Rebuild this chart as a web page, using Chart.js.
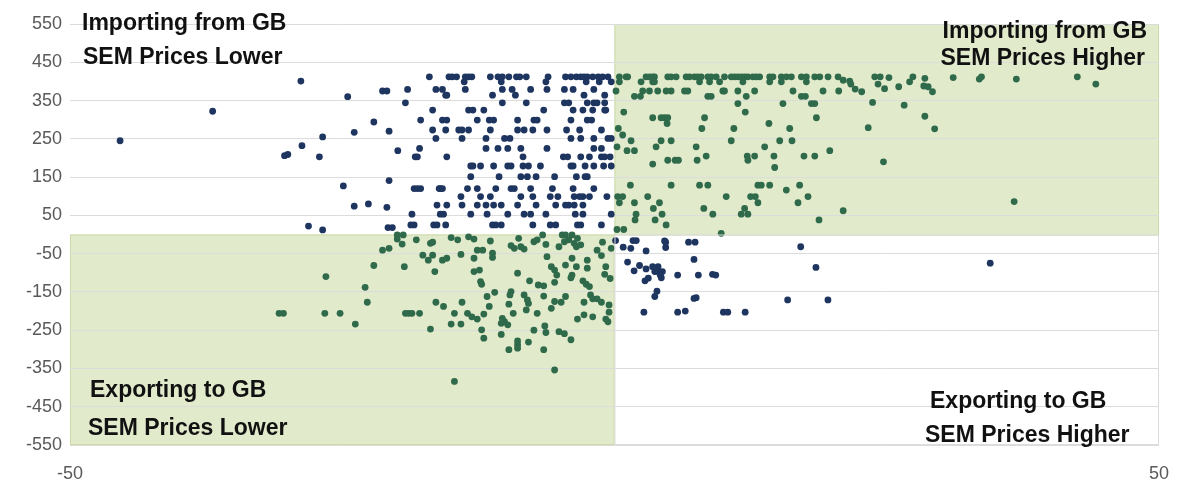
<!DOCTYPE html>
<html>
<head>
<meta charset="utf-8">
<script src="https://cdn.jsdelivr.net/npm/chart.js@4.4.1/dist/chart.umd.min.js"></script>
<style>
  body { margin: 0; background: #ffffff; }
</style>
</head>
<body>
<canvas id="chart" width="1179" height="482"></canvas>
<script>
// Axis ranges and ticks
const xRange = [-50, 50];
const xTicks = [-50, 50];
const yRange = [-550, 550];
const yStep = 100;

// Quadrant labels [line1, line2]
const labelNW = ['Importing from GB', 'SEM Prices Lower'];
const labelNE = ['Importing from GB', 'SEM Prices Higher'];
const labelSW = ['Exporting to GB', 'SEM Prices Lower'];
const labelSE = ['Exporting to GB', 'SEM Prices Higher'];

// NW quadrant (navy): importing, SEM lower
const pointsNW = [
    [-45.4,245],[-36.9,322],[-28.8,401],[-24.5,360],[-21.3,375],[-20.9,375],[-22.1,294],[-23.9,267],
    [-20.7,270],[-26.8,255],[-28.7,232],[-30.3,206],[-30.0,209],[-27.1,203],[-19.9,219],[-24.9,127],
    [-20.7,141],[-23.9,74],[-22.6,80],[-20.9,71],[-28.1,22],[-26.8,12],[-20.8,18],[-20.4,18],
    [-17.0,412],[-15.2,412],[-14.9,412],[-14.5,412],[-13.7,412],[-13.4,412],[-13.1,412],[-11.4,412],
    [-10.7,412],[-10.3,412],[-9.7,412],[-9.0,412],[-8.7,412],[-8.1,412],[-6.1,412],[-4.5,412],
    [-4.0,412],[-3.5,412],[-3.1,412],[-2.8,412],[-2.5,412],[-2.0,412],[-1.5,412],[-1.1,412],[-0.6,412],
    [-13.8,399],[-10.4,399],[-6.3,399],[-2.6,399],[-1.4,399],[-0.3,399],
    [-19.0,379],[-16.4,379],[-15.8,379],[-13.7,379],[-10.3,379],[-9.4,379],[-7.7,379],[-6.2,379],
    [-4.6,379],[-3.8,379],[-1.9,379],
    [-15.5,364],[-15.4,364],[-11.2,364],[-9.1,364],[-2.8,364],[-0.9,364],
    [-19.2,344],[-10.3,344],[-8.1,344],[-4.6,344],[-4.2,344],[-2.5,344],[-1.9,344],[-1.6,344],[-0.9,344],
    [-16.7,325],[-13.4,325],[-13.0,325],[-12.0,325],[-6.5,325],[-3.8,325],[-2.9,325],[-2.0,325],
    [-0.9,325],[-0.8,325],
    [-17.8,299],[-15.8,299],[-15.4,299],[-12.6,299],[-11.5,299],[-11.1,299],[-8.9,299],[-7.4,299],
    [-7.1,299],[-4.0,299],[-2.5,299],[-2.1,299],
    [-16.7,273],[-15.5,273],[-14.3,273],[-14.0,273],[-13.4,273],[-11.4,273],[-8.9,273],[-8.3,273],
    [-7.5,273],[-6.2,273],[-4.4,273],[-3.2,273],[-1.2,273],
    [-16.4,251],[-14.0,251],[-11.8,251],[-10.1,251],[-9.6,251],[-4.0,251],[-3.1,251],[-1.9,251],
    [-0.6,251],[-0.3,251],
    [-17.9,225],[-11.8,225],[-10.7,225],[-9.8,225],[-8.6,225],[-6.2,225],[-1.9,225],[-1.2,225],
    [-18.3,203],[-18.1,203],[-15.4,203],[-8.4,203],[-4.7,203],[-4.3,203],[-3.1,203],[-2.3,203],
    [-1.2,203],[-0.9,203],[-0.4,203],
    [-13.2,179],[-13.0,179],[-12.3,179],[-11.1,179],[-9.8,179],[-9.5,179],[-8.4,179],[-7.9,179],
    [-6.8,179],[-4.0,179],[-3.8,179],[-2.7,179],[-1.9,179],[-1.0,179],[-0.3,179],
    [-13.2,151],[-10.6,151],[-8.6,151],[-8.0,151],[-7.2,151],[-5.5,151],[-3.5,151],[-2.7,151],[-2.5,151],
    [-18.4,120],[-18.1,120],[-17.8,120],[-16.1,120],[-16.0,120],[-15.8,120],[-13.5,120],[-12.6,120],
    [-10.9,120],[-9.5,120],[-9.2,120],[-7.7,120],[-5.7,120],[-3.8,120],[-1.9,120],
    [-14.1,99],[-12.3,99],[-11.4,99],[-8.6,99],[-7.5,99],[-5.9,99],[-5.2,99],[-3.7,99],[-3.2,99],
    [-2.9,99],[-2.3,99],[-0.7,99],
    [-16.3,77],[-15.4,77],[-14.0,77],[-12.6,77],[-11.8,77],[-11.1,77],[-10.4,77],[-8.9,77],[-7.2,77],
    [-5.4,77],[-4.5,77],[-4.2,77],[-3.7,77],[-2.9,77],
    [-18.6,53],[-16.0,53],[-15.7,53],[-13.2,53],[-11.7,53],[-9.8,53],[-8.3,53],[-7.7,53],[-6.3,53],
    [-3.6,53],[-2.9,53],[-0.3,53],
    [-18.7,25],[-18.4,25],[-16.6,25],[-16.3,25],[-15.5,25],[-11.2,25],[-10.9,25],[-10.4,25],[-7.5,25],
    [-5.9,25],[-5.4,25],[-3.4,25],[-3.1,25],[-1.2,25]
];

// NE quadrant (green): importing, SEM higher
const pointsNE = [
    [0.45,412],[1.06,412],[1.21,412],[2.9,412],[3.21,412],[3.51,412],[3.67,412],[4.89,412],[5.2,412],
    [5.66,412],[6.58,412],[6.89,412],[7.35,412],[7.65,412],[7.96,412],[8.57,412],[8.88,412],[9.34,412],
    [10.1,412],[10.72,412],[11.03,412],[11.33,412],[11.64,412],[11.95,412],[12.25,412],[12.71,412],
    [13.02,412],[13.33,412],[14.25,412],[14.55,412],[15.32,412],[15.78,412],[16.24,412],[17.16,412],
    [17.62,412],[18.39,412],[18.85,412],[19.61,412],[20.53,412],
    [0.45,399],[2.44,399],[3.51,399],[3.67,399],[7.81,399],[8.73,399],[9.65,399],[11.79,399],
    [14.25,399],[15.32,399],[17.62,399],
    [0.14,375],[2.59,375],[3.21,375],[3.97,375],[4.74,375],[5.2,375],[6.43,375],[6.73,375],[9.95,375],
    [10.1,375],[11.33,375],[12.87,375],[16.39,375],[19.15,375],[20.59,375],
    [1.83,361],[2.38,361],[8.57,361],[8.88,361],[12.1,361],[17.16,361],[17.53,361],
    [11.33,342],[15.47,342],[18.08,342],[18.39,342],
    [0.85,320],[12.01,320],
    [3.51,305],[4.28,305],[4.59,305],[4.89,305],[8.27,305],[18.54,305],
    [4.83,290],[14.18,290],
    [0.35,277],[8.02,277],[10.96,277],[16.09,277],
    [0.75,260],
    [1.52,245],[4.28,245],[5.2,245],[10.72,245],[15.17,245],[16.3,245],
    [0.23,229],[3.82,229],[7.5,229],[13.79,229],
    [1.15,219],[1.83,219],[19.77,219],
    [8.42,205],[12.19,205],[12.87,205],[14.64,205],[17.4,205],[18.39,205],
    [4.89,194],[5.57,194],[5.87,194],[7.59,194],[12.25,194],
    [3.51,184],[14.71,175],
    [1.46,129],[5.2,129],[7.81,129],[8.57,129],[13.17,129],[13.48,129],[14.25,129],[17.0,129],
    [15.78,116],
    [0.29,99],[0.75,99],[3.05,99],[10.26,99],[12.5,99],[12.93,99],[17.77,99],
    [0.45,83],[1.83,83],[4.13,83],[13.17,83],[16.85,83],
    [3.57,68],[8.2,68],[11.95,68],
    [1.98,53],[4.37,53],[9.03,53],[11.64,53],[12.25,53],
    [1.89,38],[3.73,38],[18.78,38],
    [4.74,25],[0.23,13],[0.85,13],[9.8,3],
    [21.0,403],[21.6,401],[21.7,393],[22.1,380],[22.7,373],[23.9,412],[24.4,412],[24.2,393],
    [24.8,381],[25.2,410],[26.1,386],[27.1,399],[27.4,412],[28.5,408],[28.4,388],[28.8,386],
    [29.2,373],[23.7,345],[26.6,338],[28.5,309],[23.3,279],[29.4,276],[24.7,190],[21.0,62],
    [36.7,86],[31.1,410],[33.5,406],[33.7,412],[36.9,406],[42.5,412],[44.2,393]
];

// SW quadrant (green): exporting, SEM lower
const pointsSW = [
    [-19.95,-1],[-19.4,-1],[-19.95,-12],[-19.5,-25],[-18.2,-14],[-16.7,-20],[-16.9,-23],[-21.3,-41],
    [-20.7,-36],[-17.6,-54],[-16.7,-54],[-17.1,-67],[-22.1,-81],[-19.3,-84],[-16.5,-97],[-26.5,-110],
    [-22.9,-138],[-22.7,-177],[-16.4,-177],[-30.8,-206],[-30.4,-206],[-26.6,-206],[-25.2,-206],
    [-19.2,-206],[-18.9,-206],[-18.6,-206],[-17.9,-206],[-23.8,-234],[-16.9,-247],
    [-15.0,-8],[-14.4,-14],[-13.4,-6],[-12.9,-12],[-11.4,-17],[-9.5,-29],[-9.2,-36],[-8.8,-10],
    [-8.6,-32],[-8.3,-38],[-7.4,-19],[-7.1,-14],[-6.6,-1],[-6.3,-26],[-5.1,-32],[-4.8,-1],[-4.5,-1],
    [-4.6,-19],[-4.2,-14],[-3.9,-1],[-3.7,-23],[-3.5,-32],[-3.4,-10],[-3.1,-27],[-1.1,-20],[-0.3,-36],
    [-15.8,-67],[-15.4,-62],[-14.1,-52],[-12.9,-62],[-12.6,-41],[-12.1,-41],[-11.2,-49],[-11.2,-60],
    [-6.2,-58],[-3.9,-62],[-2.5,-67],[-1.6,-41],[-1.2,-55],
    [-12.9,-97],[-12.4,-93],[-8.9,-101],[-5.8,-84],[-5.5,-93],[-5.3,-106],[-4.5,-80],[-3.5,-84],
    [-3.9,-106],[-4.0,-113],[-2.5,-88],[-0.8,-84],[-0.9,-104],[-0.4,-115],
    [-12.3,-123],[-12.2,-130],[-7.8,-121],[-7.0,-132],[-6.5,-134],[-5.5,-125],[-2.9,-121],[-2.6,-130],
    [-2.3,-136],
    [-14.0,-177],[-11.7,-162],[-11.0,-151],[-9.5,-149],[-9.6,-158],[-8.3,-158],[-8.0,-171],[-7.9,-180],
    [-6.5,-161],[-5.5,-175],[-4.9,-177],[-4.5,-162],[-2.8,-177],[-2.2,-158],[-2.0,-168],[-1.6,-168],
    [-1.2,-177],[-0.5,-184],[-9.7,-182],[-11.5,-188],[-15.7,-188],
    [-14.7,-206],[-13.5,-206],[-13.1,-215],[-12.6,-221],[-12.0,-208],[-10.3,-219],[-10.1,-228],
    [-10.4,-232],[-9.8,-236],[-9.3,-206],[-8.1,-197],[-7.1,-206],[-5.8,-193],[-3.4,-221],[-2.8,-210],
    [-2.0,-215],[-0.8,-221],[-0.6,-228],[-0.5,-203],
    [-15.0,-234],[-14.1,-234],[-12.2,-249],[-10.4,-261],[-7.4,-250],[-6.4,-239],[-6.3,-256],
    [-5.1,-254],[-4.6,-259],[-4.0,-275],
    [-12.0,-271],[-8.9,-278],[-8.9,-288],[-7.9,-281],[-9.7,-301],[-8.9,-297],[-6.5,-301],
    [-5.5,-354],[-14.7,-384]
];

// SE quadrant (navy): exporting, SEM higher
const pointsSE = [
    [0.1,-16],[0.8,-33],[1.5,-36],[1.7,-16],[2.0,-16],[2.9,-43],[4.6,-17],[4.7,-20],[4.7,-34],
    [6.8,-20],[7.4,-20],[7.3,-65],[17.1,-32],
    [1.2,-72],[1.8,-95],[2.3,-81],[2.9,-90],[3.5,-84],[4.0,-84],[3.7,-97],[4.0,-97],[4.2,-106],
    [4.4,-97],[3.1,-114],[2.8,-121],[4.3,-113],[5.8,-106],[7.7,-106],[9.0,-104],[9.3,-106],[18.5,-86],
    [3.9,-148],[3.7,-162],[7.3,-167],[7.5,-165],[15.9,-171],[19.6,-171],
    [2.7,-203],[5.8,-203],[6.5,-200],[10.0,-203],[10.4,-203],[12.0,-203],[34.5,-75]
];

const Colors = {
    navy: '#1e3560',
    green: '#2f6a4b',
    shade: '#e2eacc',
    shadeEdge: '#cbdaa8',
    grid: '#dcdcdc',
    tick: '#595959',
    label: '#111111'
};

const toXY = pts => pts.map(p => ({ x: p[0], y: p[1] }));

// Shaded quadrants behind the grid, outline for the lower-right box, quadrant captions
const quadrantShading = {
    id: 'quadrantShading',
    beforeDraw(chart) {
        const { ctx, scales: { x, y } } = chart;
        const x0 = x.getPixelForValue(0);
        const xl = x.getPixelForValue(xRange[0]);
        const xr = x.getPixelForValue(xRange[1]);
        const y0 = y.getPixelForValue(0);
        const yt = y.getPixelForValue(yRange[1]);
        const yb = y.getPixelForValue(yRange[0]);
        ctx.save();
        ctx.fillStyle = Colors.shade;
        ctx.fillRect(x0, yt, xr - x0, y0 - yt);
        ctx.fillRect(xl, y0, x0 - xl, yb - y0);
        ctx.strokeStyle = Colors.shadeEdge;
        ctx.lineWidth = 1;
        ctx.strokeRect(x0 + 0.5, yt + 0.5, xr - x0 - 1, y0 - yt);
        ctx.strokeRect(xl + 0.5, y0 + 0.5, x0 - xl - 1, yb - y0 - 1);
        ctx.restore();
    },
    afterDatasetsDraw(chart) {
        const { ctx, scales: { x, y } } = chart;
        const x0 = x.getPixelForValue(0);
        const xr = x.getPixelForValue(xRange[1]);
        const y0 = y.getPixelForValue(0);
        const yb = y.getPixelForValue(yRange[0]);
        ctx.save();
        ctx.strokeStyle = Colors.grid;
        ctx.lineWidth = 1;
        ctx.strokeRect(x0 + 0.5, y0 + 0.5, xr - x0 - 1, yb - y0 - 1);

        ctx.fillStyle = Colors.label;
        ctx.font = 'bold 23px "Liberation Sans", Arial, sans-serif';
        ctx.textBaseline = 'middle';
        ctx.textAlign = 'left';
        ctx.fillText(labelNW[0], 82, 24);
        ctx.fillText(labelNW[1], 83, 58);
        ctx.fillText(labelSW[0], 90, 391);
        ctx.fillText(labelSW[1], 88, 429);
        ctx.fillText(labelSE[0], 930, 402);
        ctx.fillText(labelSE[1], 925, 436);
        ctx.textAlign = 'right';
        ctx.fillText(labelNE[0], 1147, 32);
        ctx.fillText(labelNE[1], 1145, 59);
        ctx.restore();
    }
};

const ctx = document.getElementById('chart').getContext('2d');

new Chart(ctx, {
    type: 'scatter',
    data: {
        datasets: [
            { data: toXY(pointsNW), backgroundColor: Colors.navy, borderWidth: 0, pointRadius: 3.4 },
            { data: toXY(pointsSE), backgroundColor: Colors.navy, borderWidth: 0, pointRadius: 3.4 },
            { data: toXY(pointsNE), backgroundColor: Colors.green, borderWidth: 0, pointRadius: 3.4 },
            { data: toXY(pointsSW), backgroundColor: Colors.green, borderWidth: 0, pointRadius: 3.4 }
        ]
    },
    options: {
        responsive: false,
        animation: false,
        layout: { padding: { top: 24, right: 20, left: 0, bottom: 0 } },
        plugins: {
            legend: { display: false },
            tooltip: { enabled: false }
        },
        scales: {
            x: {
                type: 'linear',
                min: xRange[0],
                max: xRange[1],
                afterBuildTicks: s => { s.ticks = xTicks.map(v => ({ value: v })); },
                ticks: {
                    color: Colors.tick,
                    padding: 10,
                    font: { family: '"Liberation Sans", Arial, sans-serif', size: 18 }
                },
                grid: { display: false },
                border: { display: false },
                afterFit: s => { s.height = 37; }
            },
            y: {
                min: yRange[0],
                max: yRange[1],
                ticks: {
                    stepSize: yStep,
                    color: Colors.tick,
                    padding: 8,
                    font: { family: '"Liberation Sans", Arial, sans-serif', size: 18 }
                },
                grid: { color: Colors.grid, drawTicks: false },
                border: { display: false },
                afterFit: s => { s.width = 70; }
            }
        }
    },
    plugins: [quadrantShading]
});
</script>
</body>
</html>
